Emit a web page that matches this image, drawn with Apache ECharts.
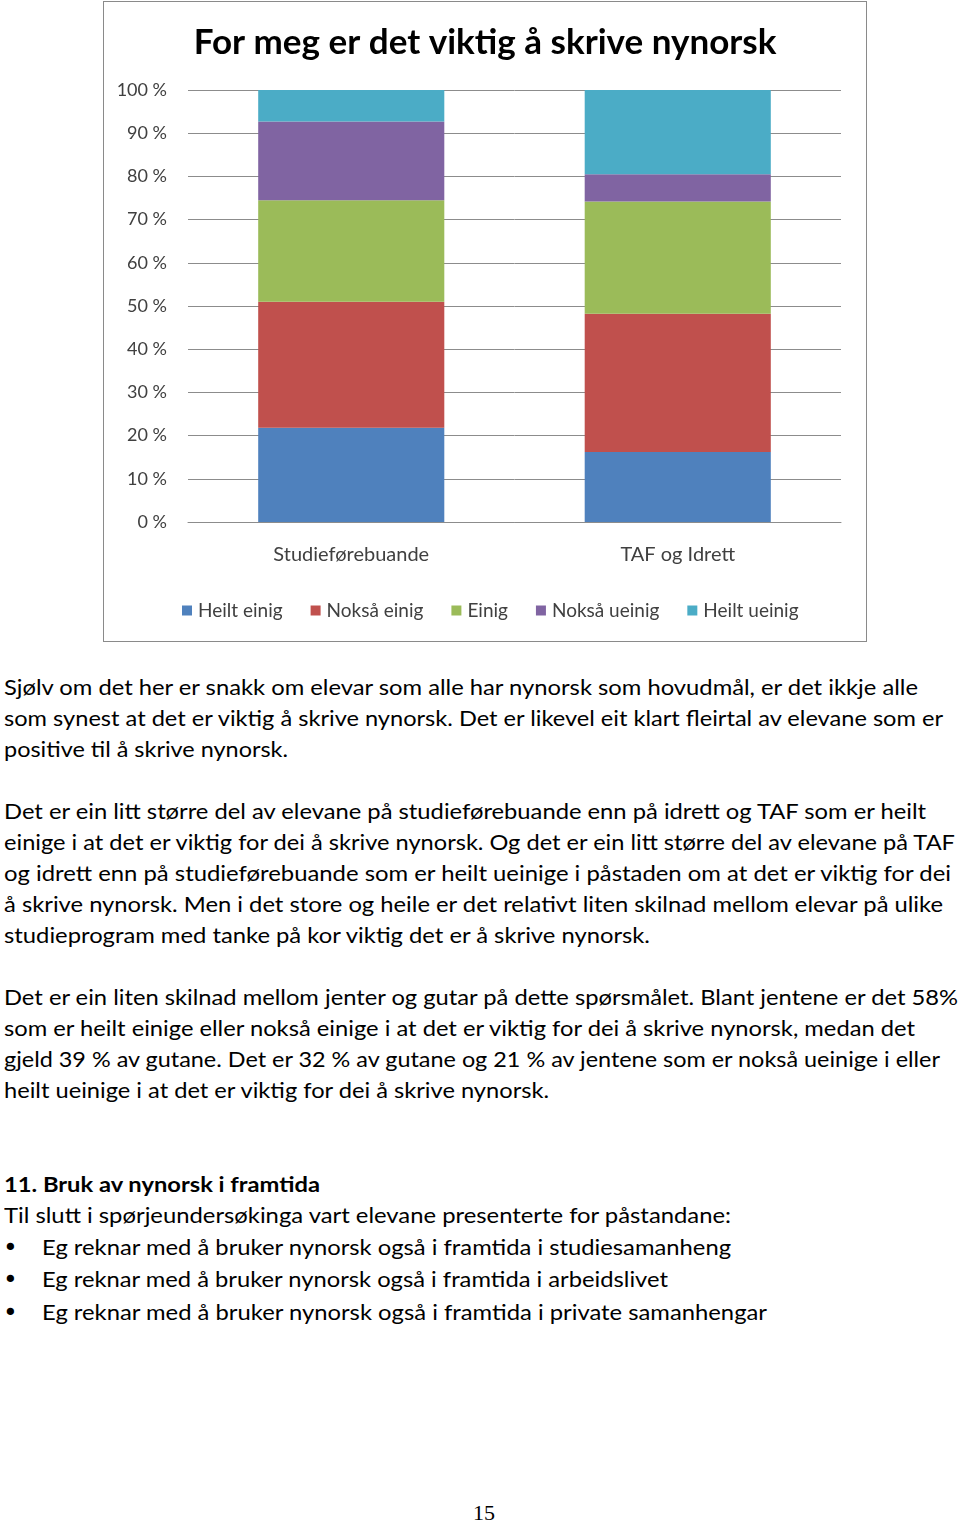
<!DOCTYPE html>
<html>
<head>
<meta charset="utf-8">
<script src="https://cdn.jsdelivr.net/npm/echarts@6/dist/echarts.min.js"></script>
<style>
  html, body { margin: 0; padding: 0; background: #fff; }
  body { width: 960px; height: 1525px; position: relative; overflow: hidden; }
  #box { position: absolute; left: 103px; top: 1px; width: 764px; height: 641px; border: 1px solid #8a8a8a; box-sizing: border-box; }
  #chart { position: absolute; left: 0; top: 0; width: 762px; height: 639px; }
  .ln { position: absolute; white-space: nowrap; font-family: Lato, "Open Sans", sans-serif; font-size: 21.5px; line-height: 31px; color: #000; transform-origin: 0 50%; }
  .b { font-weight: bold; }
  .bullet { position: absolute; left: 3px; font-family: "DejaVu Sans", sans-serif; font-size: 25px; line-height: 31px; }
  #pg { position: absolute; left: 0; width: 960px; text-align: center; top: 1499px; font-family: "Liberation Serif", serif; font-size: 22px; line-height: 28px; padding-left: 8px; box-sizing: border-box; }
</style>
</head>
<body>
<div id="box"><div id="chart"></div></div>
<div id="text"></div>
<div id="pg">15</div>
<script>
// ---- chart data ----
const chartTitle = 'For meg er det viktig å skrive nynorsk';
const categories = ['Studieførebuande', 'TAF og Idrett'];
const seriesNames = ['Heilt einig', 'Nokså einig', 'Einig', 'Nokså ueinig', 'Heilt ueinig'];
const heiltEinig = [21.8, 16.2];
const noksaEinig = [29.2, 32.0];
const einig = [23.5, 26.0];
const noksaUeinig = [18.2, 6.3];
const heiltUeinig = [7.3, 19.5];
const yTicks = [0, 10, 20, 30, 40, 50, 60, 70, 80, 90, 100];
const colors = ['#4F81BD', '#C0504D', '#9BBB59', '#8064A2', '#4BACC6'];

const seriesValues = [heiltEinig, noksaEinig, einig, noksaUeinig, heiltUeinig];

const chart = echarts.init(document.getElementById('chart'), null, { renderer: 'canvas' });
const fontFam = 'Lato, "Open Sans", sans-serif';
chart.setOption({
  animation: false,
  color: colors,
  title: {
    text: chartTitle,
    left: 'center',
    top: 23,
    padding: 0,
    textStyle: { fontFamily: fontFam, fontSize: 35, fontWeight: 'bold', color: '#000' }
  },
  legend: {
    data: seriesNames,
    left: 73,
    top: 594,
    icon: 'rect',
    itemWidth: 10,
    itemHeight: 10,
    itemGap: 28,
    textStyle: { fontFamily: fontFam, fontSize: 19, color: '#404040', padding: [0, 0, 0, 1] }
  },
  grid: { left: 84, right: 25, top: 88, bottom: 119 },
  xAxis: {
    type: 'category',
    data: categories,
    axisLine: { show: true, lineStyle: { color: '#8c8c8c', width: 1 } },
    axisTick: { show: false },
    axisLabel: { margin: 23, fontFamily: fontFam, fontSize: 20, color: '#404040' }
  },
  yAxis: {
    type: 'value',
    min: yTicks[0],
    max: yTicks[yTicks.length - 1],
    interval: yTicks[1] - yTicks[0],
    axisLine: { show: false },
    axisTick: { show: false },
    splitLine: { lineStyle: { color: '#8c8c8c', width: 1 } },
    axisLabel: { margin: 21, fontFamily: fontFam, fontSize: 18, color: '#404040', formatter: '{value} %' }
  },
  series: seriesNames.map((n, i) => ({
    name: n,
    type: 'bar',
    stack: 'total',
    barCategoryGap: '43%',
    data: seriesValues[i]
  }))
});

// ---- body text ----
const bodyLines = [
  'Sjølv om det her er snakk om elevar som alle har nynorsk som hovudmål, er det ikkje alle',
  'som synest at det er viktig å skrive nynorsk. Det er likevel eit klart fleirtal av elevane som er',
  'positive til å skrive nynorsk.',
  'Det er ein litt større del av elevane på studieførebuande enn på idrett og TAF som er heilt',
  'einige i at det er viktig for dei å skrive nynorsk. Og det er ein litt større del av elevane på TAF',
  'og idrett enn på studieførebuande som er heilt ueinige i påstaden om at det er viktig for dei',
  'å skrive nynorsk. Men i det store og heile er det relativt liten skilnad mellom elevar på ulike',
  'studieprogram med tanke på kor viktig det er å skrive nynorsk.',
  'Det er ein liten skilnad mellom jenter og gutar på dette spørsmålet. Blant jentene er det 58%',
  'som er heilt einige eller nokså einige i at det er viktig for dei å skrive nynorsk, medan det',
  'gjeld 39 % av gutane. Det er 32 % av gutane og 21 % av jentene som er nokså ueinige i eller',
  'heilt ueinige i at det er viktig for dei å skrive nynorsk.',
  '11. Bruk av nynorsk i framtida',
  'Til slutt i spørjeundersøkinga vart elevane presenterte for påstandane:',
  'Eg reknar med å bruker nynorsk også i framtida i studiesamanheng',
  'Eg reknar med å bruker nynorsk også i framtida i arbeidslivet',
  'Eg reknar med å bruker nynorsk også i framtida i private samanhengar'
];
// layout: [centerY, left, right, bold, bullet]
const bodyLayout = [
  [687, 4, 918, 0, 0], [718, 4, 943, 0, 0], [749, 4, 288, 0, 0],
  [811, 4, 926, 0, 0], [842, 4, 955, 0, 0], [873, 4, 951, 0, 0], [904, 4, 943, 0, 0], [935, 4, 650, 0, 0],
  [997, 4, 958, 0, 0], [1028, 4, 915, 0, 0], [1059, 4, 940, 0, 0], [1090, 4, 549, 0, 0],
  [1184, 4, 320, 1, 0], [1215, 4, 731, 0, 0],
  [1247, 42, 731, 0, 1], [1279, 42, 668, 0, 1], [1312, 42, 767, 0, 1]
];
const host = document.getElementById('text');
bodyLines.forEach((t, i) => {
  const [cy, l, r, b, bul] = bodyLayout[i];
  const d = document.createElement('div');
  d.className = 'ln' + (b ? ' b' : '');
  d.textContent = t;
  d.style.left = l + 'px';
  d.style.top = (cy - 15.5) + 'px';
  host.appendChild(d);
  const w = d.getBoundingClientRect().width;
  d.style.transform = 'scaleX(' + ((r - l) / w).toFixed(4) + ')';
  if (bul) {
    const s = document.createElement('div');
    s.className = 'bullet';
    s.textContent = '•';
    s.style.top = (cy - 15.5) + 'px';
    host.appendChild(s);
  }
});
</script>
</body>
</html>
